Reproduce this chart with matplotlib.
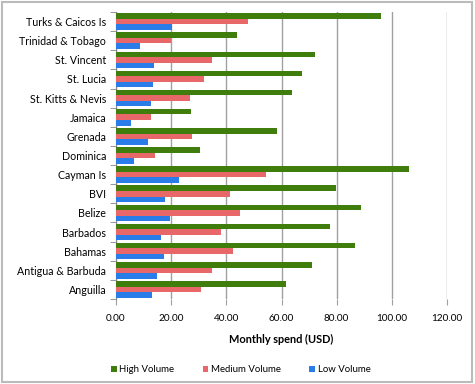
import numpy as np
import matplotlib.pyplot as plt
from matplotlib.patches import Rectangle

# categories bottom -> top
countries = ["Anguilla", "Antigua & Barbuda", "Bahamas", "Barbados", "Belize", "BVI",
             "Cayman Is", "Dominica", "Grenada", "Jamaica", "St. Kitts & Nevis",
             "St. Lucia", "St. Vincent", "Trinidad & Tobago", "Turks & Caicos Is"]
high = [61.8, 71.2, 86.8, 77.5, 89.0, 79.9, 106.3, 30.3, 58.2, 27.2, 63.9, 67.6, 72.2, 44.0, 96.0]
medium = [30.8, 34.8, 42.4, 37.9, 44.9, 41.3, 54.2, 14.3, 27.7, 12.6, 26.9, 31.9, 34.8, 20.0, 48.0]
low = [13.2, 14.9, 17.4, 16.3, 19.4, 17.6, 23.0, 6.5, 11.6, 5.4, 12.8, 13.3, 13.7, 8.8, 20.3]

plt.rcParams['font.family'] = ['Lato', 'DejaVu Sans']

fig = plt.figure(figsize=(4.75, 3.84), dpi=100)
ax = fig.add_axes([116/475, 1-299/384, (447-116)/475, (299-12)/384])

y = np.arange(len(countries))
h = 0.29
ax.barh(y + h, high, height=h, color="#3f7d0c", label="High Volume", zorder=3)
ax.barh(y, medium, height=h, color="#e8686a", label="Medium Volume", zorder=3)
ax.barh(y - h, low, height=h, color="#2a7ce8", label="Low Volume", zorder=3)

ax.set_xlim(0, 120)
ax.set_ylim(-0.5, len(countries) - 0.5)
ax.set_xticks(np.arange(0, 121, 20))
ax.set_xticklabels([f"{v:.2f}" for v in np.arange(0, 121, 20)], fontsize=7.2)
ax.set_yticks(y)
ax.set_yticklabels(countries, fontsize=7.7)
ax.tick_params(axis="y", length=0, pad=7)
ax.set_yticks(np.arange(-0.5, len(countries), 1), minor=True)
ax.tick_params(axis="y", which="minor", length=4, color="#888888")
ax.tick_params(axis="x", length=4, color="#a0a0a0", pad=7)
ax.grid(axis="x", color="#a0a0a0", linewidth=1, zorder=0)
for s in ["top", "right", "bottom"]:
    ax.spines[s].set_visible(False)
ax.spines["left"].set_color("#888888")
ax.set_xlabel("Monthly spend (USD)", fontsize=7.9, fontweight="bold", labelpad=8)

fig.legend(loc="center", bbox_to_anchor=(0.507, 1-370/384), ncol=3, frameon=False,
           fontsize=6.9, handlelength=0.6, handleheight=0.6, columnspacing=2.95, handletextpad=0.3)

fig.patches.append(Rectangle((2/475, 2/384), 470/475, 380/384, transform=fig.transFigure,
                             fill=False, edgecolor="#bbbbbb", linewidth=1.5))

fig.savefig("out.png", dpi=100)
